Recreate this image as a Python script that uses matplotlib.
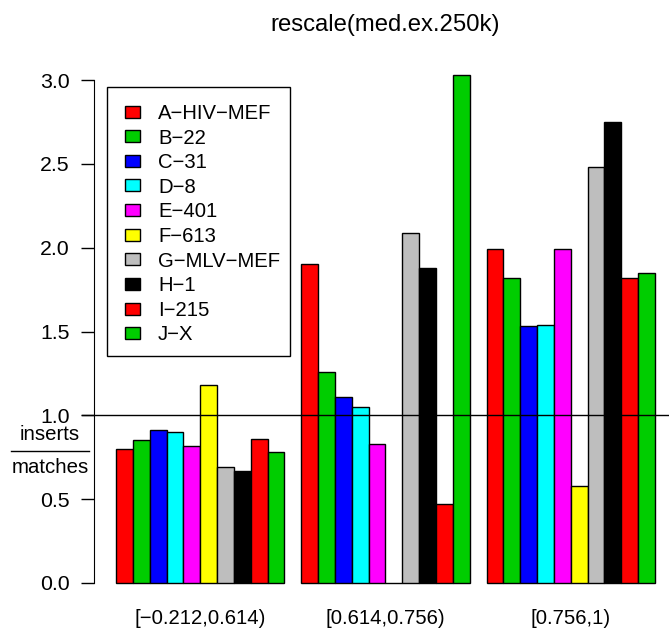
import matplotlib
matplotlib.use("Agg")
import matplotlib.pyplot as plt
from matplotlib.patches import Rectangle
from matplotlib.lines import Line2D
import numpy as np

plt.rcParams["font.family"] = ["Liberation Sans", "DejaVu Sans"]

M = "\u2212"
groups = [f"[{M}0.212,0.614)", "[0.614,0.756)", "[0.756,1)"]
series = ["A" + M + "HIV" + M + "MEF", "B" + M + "22", "C" + M + "31", "D" + M + "8",
          "E" + M + "401", "F" + M + "613", "G" + M + "MLV" + M + "MEF", "H" + M + "1",
          "I" + M + "215", "J" + M + "X"]
colors = ["#FF0000", "#00CD00", "#0000FF", "#00FFFF", "#FF00FF",
          "#FFFF00", "#BEBEBE", "#000000", "#FF0000", "#00CD00"]

# one row per group, one column per series
values = np.array([
    [0.80, 0.85, 0.91, 0.90, 0.82, 1.18, 0.69, 0.67, 0.86, 0.78],
    [1.90, 1.26, 1.11, 1.05, 0.83, 0.00, 2.09, 1.88, 0.47, 3.03],
    [1.99, 1.82, 1.53, 1.54, 1.99, 0.58, 2.48, 2.75, 1.82, 1.85],
])

W, H = 669, 632
fig = plt.figure(figsize=(W / 100, H / 100), dpi=100)


def fx(px):
    return px / W


def fy(py):
    return 1 - py / H


# plot region in pixels (R-style, 4% padding around the bars)
px_per_unit_x = (655 - 116) / 32.0
left_px = 116 - 1.28 * px_per_unit_x
right_px = 655 + 1.28 * px_per_unit_x
ylo, yhi = -0.12, 3.15
px_per_unit_y = (583 - 80) / 3.0
bot_px = 583 - ylo * px_per_unit_y
top_px = 80 - (yhi - 3.0) * px_per_unit_y
ax = fig.add_axes([fx(left_px), fy(bot_px),
                   (right_px - left_px) / W, (bot_px - top_px) / H])
ax.set_xlim(-0.28, 34.28)
ax.set_ylim(ylo, yhi)

nser = len(series)
for g in range(len(groups)):
    start = 1 + g * (nser + 1)
    for s in range(nser):
        ax.bar(start + s, values[g, s], width=1.0, align="edge",
               color=colors[s], edgecolor="black", linewidth=1.0)
    ax.text(start + nser / 2, -0.21, groups[g], ha="center", va="center",
            fontsize=14.6, clip_on=False)

hx0 = (82 - left_px) / (right_px - left_px)
ax.axhline(1.0, xmin=hx0, xmax=1.1, color="black", linewidth=1.0, clip_on=False)

for sp in ["top", "right", "bottom"]:
    ax.spines[sp].set_visible(False)
ax.spines["left"].set_bounds(0, 3)
ax.set_xticks([])
ax.set_yticks([0, 0.5, 1.0, 1.5, 2.0, 2.5, 3.0])
ax.set_yticklabels(["0.0", "0.5", "1.0", "1.5", "2.0", "2.5", "3.0"])
ax.tick_params(axis="y", length=9.4, width=1.0, labelsize=15.3, pad=8.3)

ax.set_title("rescale(med.ex.250k)", fontsize=17.2, pad=0, va="center",
             y=1 + (top_px - 25) / (bot_px - top_px))

# inserts / matches fraction label
fig.text(fx(50), fy(440), "inserts", ha="center", va="baseline", fontsize=14.7)
fig.text(fx(50), fy(473), "matches", ha="center", va="baseline", fontsize=14.7)
fig.add_artist(Line2D([fx(11), fx(89)], [fy(451), fy(451)],
                      color="black", linewidth=1.0))

# legend box, drawn R-style
fig.add_artist(Rectangle((fx(107), fy(356)), (290 - 107) / W, (356 - 87) / H,
                         facecolor="white", edgecolor="black", linewidth=1.0,
                         transform=fig.transFigure, zorder=5))
for i, (lab, c) in enumerate(zip(series, colors)):
    yc = 111.7 + i * 24.6
    fig.add_artist(Rectangle((fx(125), fy(yc + 6)), 15 / W, 12 / H,
                             facecolor=c, edgecolor="black", linewidth=1.0,
                             transform=fig.transFigure, zorder=6))
    fig.text(fx(158), fy(yc + 7.3), lab, ha="left", va="baseline",
             fontsize=14.6, zorder=6)

fig.savefig("out.png", dpi=100)
